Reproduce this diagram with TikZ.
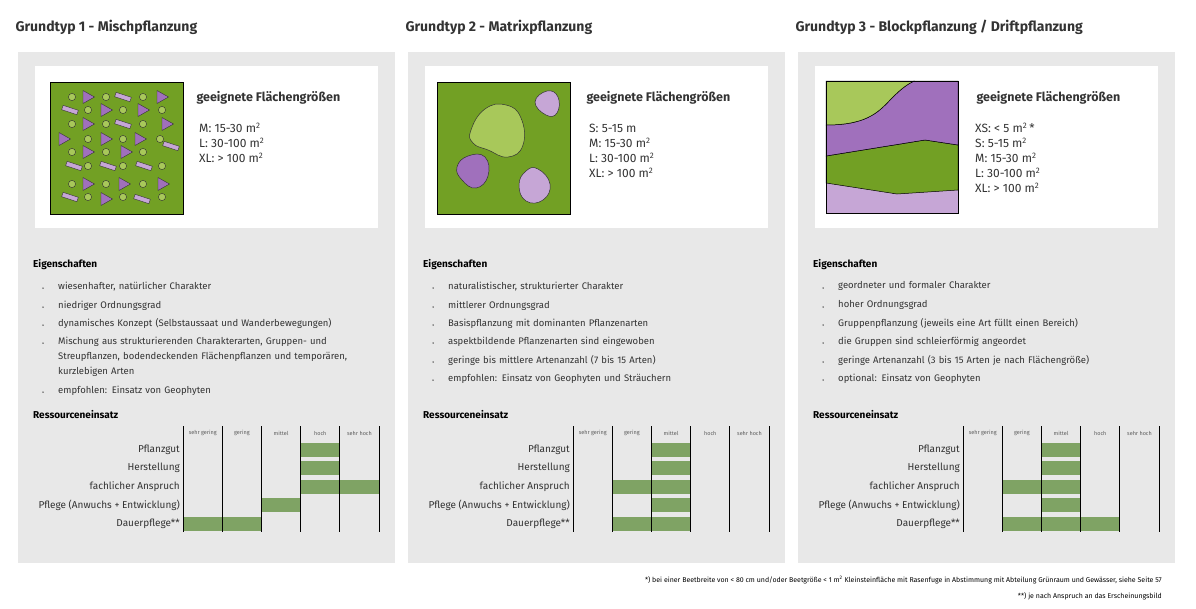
\documentclass[tikz,border=0pt]{standalone}
\usepackage{fontspec}
\setmainfont{Fira Sans}
\usetikzlibrary{positioning}
\definecolor{panelgrey}{HTML}{E8E8E8}
\definecolor{meadow}{HTML}{72A024}
\definecolor{lightgreen}{HTML}{A8C85A}
\definecolor{violet}{HTML}{A070BC}
\definecolor{lilac}{HTML}{C6A6D6}
\definecolor{barcol}{HTML}{7FA364}
\definecolor{ink}{HTML}{333333}
\tikzset{
  panel/.style = {fill=panelgrey, draw=none},
  card/.style = {fill=white, draw=none},
  title/.style = {anchor=west, text=ink, font=\fontsize{14}{16}\selectfont\bfseries},
  head/.style = {anchor=west, text=ink, font=\fontsize{12.5}{14}\selectfont\bfseries},
  size/.style = {anchor=west, text=ink, font=\fontsize{12}{15}\selectfont\addfontfeatures{Weight=Light}, inner sep=0pt},
  sub/.style = {anchor=west, text=black, font=\fontsize{10}{12}\selectfont\bfseries, inner sep=0pt},
  item/.style = {anchor=north west, text=ink, inner sep=0pt, align=left,
    font=\fontsize{9.5}{15}\selectfont, text width=400pt},
  dot/.style = {circle, fill=ink, inner sep=0pt, minimum size=1.5pt},
  rowlab/.style = {anchor=east, text=ink, font=\fontsize{10}{12}\selectfont, inner sep=0pt},
  colhead/.style = {text=ink!80, font=\fontsize{5.5}{6}\selectfont, inner sep=0pt},
  bar/.style = {fill=barcol, draw=none},
  grid/.style = {draw=black, line width=0.9pt},
  blob/.style = {draw=black!80, line width=0.5pt},
  foot/.style = {anchor=east, text=black, font=\fontsize{7}{8}\selectfont, inner sep=0pt},
}
\newcommand{\sq}{m\textsuperscript{2}}
\begin{document}
\begin{tikzpicture}[x=1pt,y=-1pt]
\useasboundingbox (0,0) rectangle (1196,608);

% titles and panels
\node[title] (t1) at (12,27) {Grundtyp 1 - Mischpflanzung};
\node[title] (t2) at (402,27) {Grundtyp 2 - Matrixpflanzung};
\node[title] (t3) at (792,27) {Grundtyp 3 - Blockpflanzung / Driftpflanzung};
\foreach \ox in {0,390,780} {
  \fill[panel] (18+\ox,52) rectangle (395+\ox,563);
  \fill[card] (35+\ox,66) rectangle (378+\ox,228);
  \node[head] at (193+\ox,98) {geeignete Flächengrößen};
}

% picture 1: mixed planting
\fill[meadow] (50,82) rectangle (183,214);
\foreach \x/\y/\k in {72/97/c,88/97/t,106/97/c,123/97/r,143/97/c,162/97/t,
  70/110/r,88/110/c,106/110/t,123/110/c,143/110/t,162/110/c,
  72/124/c,88/124/t,106/124/c,123/124/r,143/124/c,167/124/t,
  64/139/t,88/139/c,106/139/t,123/139/c,140/139/t,160/139/c,171/146/r,
  72/152/c,88/152/t,106/152/c,126/152/t,143/152/c,
  74/166/r,88/166/c,108/166/r,123/166/c,144/166/r,162/166/c,
  72/184/c,88/184/t,106/184/c,124/184/t,143/184/c,163/184/t,
  70/197/r,88/197/c,106/199/t,123/197/c,142/199/r,162/197/c} {
  \if c\k
    \draw[fill=lightgreen, draw=black!80, line width=0.4pt] (\x,\y) circle (3.6);
  \else\if t\k
    \draw[fill=violet, draw=black!80, line width=0.4pt] (\x-5,\y-6.5) -- (\x+6.5,\y) -- (\x-5,\y+6.5) -- cycle;
  \else
    \draw[fill=lilac, draw=black!80, line width=0.4pt, rotate around={-18:(\x,\y)}] (\x-8,\y-2.3) rectangle (\x+8,\y+2.3);
  \fi\fi
}
\draw[line width=0.9pt] (50,82) rectangle (183,214);
\node[size] (s11) at (199,128) {M: 15-30 \sq};
\node[size] (s12) at (199,143) {L: 30-100 \sq};
\node[size] (s13) at (199,158) {XL: > 100 \sq};

% picture 2: matrix planting
\fill[meadow] (437,82) rectangle (570,214);
\draw[blob, fill=lightgreen] plot[smooth cycle, tension=0.8] coordinates {(471,130) (485,109) (506,105) (521,118) (523,145) (508,157) (488,150) (473,143)};
\draw[blob, fill=lilac] plot[smooth cycle, tension=0.8] coordinates {(535,102) (547,91) (558,97) (557,113) (546,115)};
\draw[blob, fill=violet] plot[smooth cycle, tension=0.8] coordinates {(457,167) (468,156) (485,157) (488,176) (476,188) (462,180)};
\draw[blob, fill=lilac] plot[smooth cycle, tension=0.8] coordinates {(519,185) (526,171) (538,169) (550,184) (543,200) (526,201)};
\draw[line width=0.9pt] (437,82) rectangle (570,214);
\node[size] (s21) at (589,128) {S: 5-15 m};
\node[size] (s22) at (589,143) {M: 15-30 \sq};
\node[size] (s23) at (589,158) {L: 30-100 \sq};
\node[size] (s24) at (589,173) {XL: > 100 \sq};

% picture 3: block planting
\fill[lilac] (826,81) rectangle (958,213);
\fill[meadow, draw=black, line width=0.5pt] (826,156) -- (925,140) -- (958,145) -- (958,190) -- (897,194) -- (826,183) -- cycle;
\fill[violet, draw=black, line width=0.5pt] (826,125) .. controls (870,125) and (880,110) .. (893,97) .. controls (902,88) and (908,84) .. (914,81) -- (958,81) -- (958,145) -- (925,140) -- (826,156) -- cycle;
\fill[lightgreen, draw=black, line width=0.5pt] (826,81) -- (914,81) .. controls (908,84) and (902,88) .. (893,97) .. controls (880,110) and (870,125) .. (826,125) -- cycle;
\draw[line width=0.9pt] (826,81) rectangle (958,213);
\node[size] (s31) at (975,128) {XS: < 5 \sq\,*};
\node[size] (s32) at (975,143) {S: 5-15 \sq};
\node[size] (s33) at (975,158) {M: 15-30 \sq};
\node[size] (s34) at (975,173) {L: 30-100 \sq};
\node[size] (s35) at (975,188) {XL: > 100 \sq};

% properties
\foreach \ox in {0,390,780} {
  \node[sub] at (33+\ox,265) {Eigenschaften};
  \node[sub] at (33+\ox,415) {Ressourceneinsatz};
}
\foreach \y/\txt [count=\i] in {288/{wiesenhafter, natürlicher Charakter},
  307/{niedriger Ordnungsgrad},
  325/{dynamisches Konzept (Selbstaussaat und Wanderbewegungen)},
  343/{Mischung aus strukturierenden Charakterarten, Gruppen- und\\Streupflanzen, bodendeckenden Flächenpflanzen und temporären,\\kurzlebigen Arten},
  392/{empfohlen: Einsatz von Geophyten}} {
  \node[dot] at (43,\y) {};
  \node[item] (e1\i) at (58,\y-6.5) {\txt};
}
\foreach \y/\txt [count=\i] in {288/{naturalistischer, strukturierter Charakter},
  307/{mittlerer Ordnungsgrad},
  325/{Basispflanzung mit dominanten Pflanzenarten},
  343/{aspektbildende Pflanzenarten sind eingewoben},
  362/{geringe bis mittlere Artenanzahl (7 bis 15 Arten)},
  380/{empfohlen: Einsatz von Geophyten und Sträuchern}} {
  \node[dot] at (433,\y) {};
  \node[item] (e2\i) at (448,\y-6.5) {\txt};
}
\foreach \y/\txt [count=\i] in {288/{geordneter und formaler Charakter},
  307/{hoher Ordnungsgrad},
  325/{Gruppenpflanzung (jeweils eine Art füllt einen Bereich)},
  343/{die Gruppen sind schleierförmig angeordet},
  362/{geringe Artenanzahl (3 bis 15 Arten je nach Flächengröße)},
  380/{optional: Einsatz von Geophyten}} {
  \node[dot] at (823,\y) {};
  \node[item] (e3\i) at (838,\y-6.5) {\txt};
}

% resource tables
\foreach \ox in {0,390,780} {
  \foreach \lab [count=\r] in {Pflanzgut,Herstellung,fachlicher Anspruch,Pflege (Anwuchs + Entwicklung),Dauerpflege**}
    \node[rowlab] at (180+\ox,431+18.5*\r) {\lab};
  \foreach \lab [count=\c] in {sehr gering,gering,mittel,hoch,sehr hoch}
    \node[colhead] at (163.5+39.2*\c+\ox,433) {\lab};
}
% bars: x offset / row / first column / last column
\foreach \ox/\r/\a/\b in {0/1/4/4,0/2/4/4,0/3/4/5,0/4/3/3,0/5/1/2,
  390/1/3/3,390/2/3/3,390/3/2/3,390/4/3/3,390/5/2/3,
  780/1/3/3,780/2/3/3,780/3/2/3,780/4/3/3,780/5/2/4}
  \fill[bar] (144+39.2*\a+\ox,424+18.5*\r) rectangle (183+39.2*\b+\ox,438+18.5*\r);
\foreach \ox in {0,390,780}
  \foreach \c in {0,...,5}
    \draw[grid] (183+39.2*\c+\ox,426) -- (183+39.2*\c+\ox,532);

% footnotes
\node[foot] (f1) at (1162,580) {*) bei einer Beetbreite von < 80 cm und/oder Beetgröße < 1 m\textsuperscript{2} Kleinsteinfläche mit Rasenfuge in Abstimmung mit Abteilung Grünraum und Gewässer, siehe Seite 57};
\node[foot] (f2) at (1162,596) {**) je nach Anspruch an das Erscheinungsbild};
\end{tikzpicture}
\end{document}
